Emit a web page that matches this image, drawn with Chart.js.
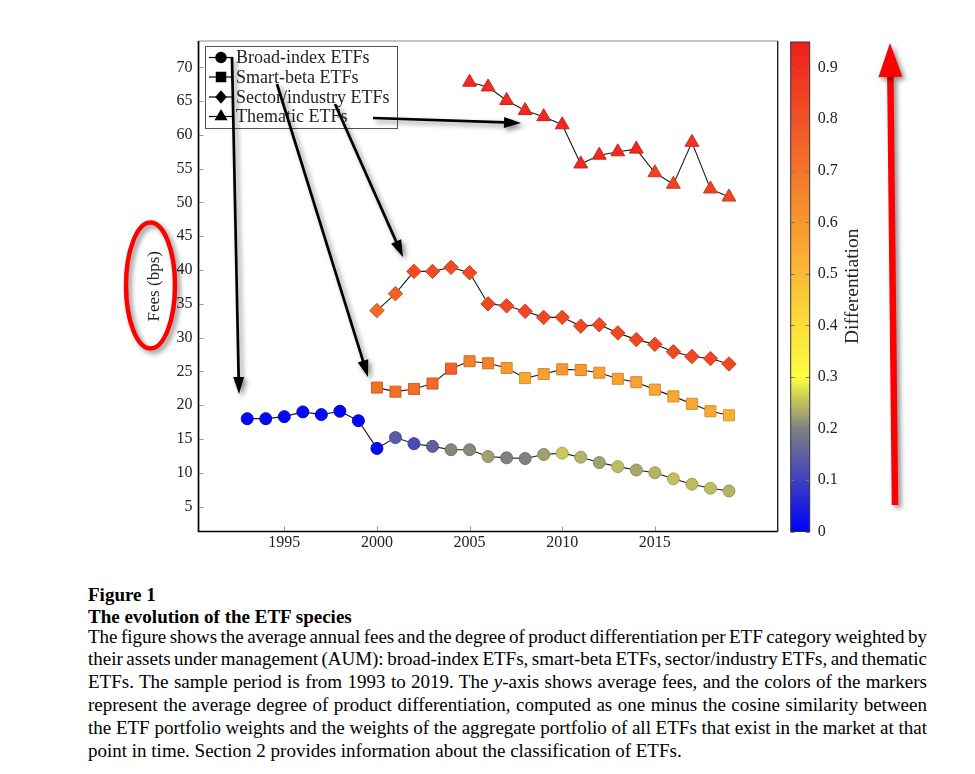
<!DOCTYPE html>
<html>
<head>
<meta charset="utf-8">
<script src="https://cdn.jsdelivr.net/npm/chart.js@4.4.0/dist/chart.umd.min.js"></script>
<style>
  html, body { margin: 0; padding: 0; background: #fff; }
  #wrap { position: absolute; left: 0; top: 0; width: 975px; height: 570px; }
  .cap { position: absolute; left: 88px; font-family: "Liberation Serif", "Times New Roman", serif;
         font-size: 19px; line-height: 19px; color: #000; white-space: nowrap; }
  .b { font-weight: bold; }
</style>
</head>
<body>
<div id="wrap"><canvas id="c" width="975" height="570" style="width:975px;height:570px"></canvas></div>

<div class="cap b" style="top:585px">Figure 1</div>
<div class="cap b" style="top:606.5px">The evolution of the ETF species</div>
<div class="cap jl" style="top:626.5px">The figure shows the average annual fees and the degree of product differentiation per ETF category weighted by</div>
<div class="cap jl" style="top:649.3px">their assets under management (AUM): broad-index ETFs, smart-beta ETFs, sector/industry ETFs, and thematic</div>
<div class="cap jl" style="top:672.1px">ETFs. The sample period is from 1993 to 2019. The <i>y</i>-axis shows average fees, and the colors of the markers</div>
<div class="cap jl" style="top:694.9px">represent the average degree of product differentiation, computed as one minus the cosine similarity between</div>
<div class="cap jl" style="top:717.7px">the ETF portfolio weights and the weights of the aggregate portfolio of all ETFs that exist in the market at that</div>
<div class="cap" style="top:740.5px">point in time. Section 2 provides information about the classification of ETFs.</div>

<script>
// ---------------- DATA ----------------
const broadYears = [1993,1994,1995,1996,1997,1998,1999,2000,2001,2002,2003,2004,2005,2006,2007,2008,2009,2010,2011,2012,2013,2014,2015,2016,2017,2018,2019];
const broadFees  = [18.0,18.0,18.3,19.0,18.6,19.1,17.7,13.6,15.2,14.3,13.9,13.4,13.4,12.4,12.2,12.1,12.7,12.9,12.3,11.5,10.9,10.4,10.0,9.1,8.3,7.7,7.3];
const broadDiff  = [0.01,0.01,0.01,0.01,0.01,0.01,0.01,0.01,0.14,0.116,0.15,0.205,0.206,0.225,0.2,0.2,0.225,0.257,0.241,0.225,0.247,0.231,0.241,0.25,0.247,0.247,0.241];

const smartYears = [2000,2001,2002,2003,2004,2005,2006,2007,2008,2009,2010,2011,2012,2013,2014,2015,2016,2017,2018,2019];
const smartFees  = [22.6,22.0,22.4,23.2,25.4,26.5,26.2,25.5,24.0,24.6,25.3,25.2,24.8,23.9,23.4,22.3,21.3,20.2,19.1,18.5];
const smartDiff  = [0.713,0.713,0.713,0.736,0.76,0.667,0.667,0.592,0.551,0.574,0.598,0.598,0.574,0.574,0.574,0.551,0.551,0.551,0.551,0.528];

const sectorYears = [2000,2001,2002,2003,2004,2005,2006,2007,2008,2009,2010,2011,2012,2013,2014,2015,2016,2017,2018,2019];
const sectorFees  = [34.0,36.5,39.8,39.8,40.4,39.6,35.0,34.7,33.9,33.0,33.0,31.7,31.9,30.7,29.7,29.0,27.9,27.2,26.9,26.1];
const sectorDiff  = [0.73,0.76,0.823,0.823,0.823,0.823,0.829,0.829,0.829,0.829,0.829,0.829,0.829,0.829,0.829,0.829,0.829,0.829,0.829,0.829];

const themYears = [2005,2006,2007,2008,2009,2010,2011,2012,2013,2014,2015,2016,2017,2018,2019];
const themFees  = [67.8,67.1,65.1,63.6,62.7,61.5,55.7,57.0,57.5,57.9,54.4,52.7,58.9,52.0,50.8];
const themDiff  = [0.915,0.915,0.915,0.915,0.915,0.915,0.915,0.915,0.915,0.915,0.85,0.85,0.88,0.85,0.84];

const seriesNames = ['Broad-index ETFs','Smart-beta ETFs','Sector/industry ETFs','Thematic ETFs'];
const xTicks = [1995,2000,2005,2010,2015];
const yTicks = [5,10,15,20,25,30,35,40,45,50,55,60,65,70];
const cbTicks = [0,0.1,0.2,0.3,0.4,0.5,0.6,0.7,0.8,0.9];
const cbRange = [0, 0.95];
const xRange = [1990.37, 2021.63];
const yRange = [1.3, 73.9];
const cmapStops = [[0,[0,0,255]],[0.2,[128,128,128]],[0.3,[255,255,64]],[0.95,[238,30,30]]];

// ---------------- HELPERS ----------------
function cmap(v){
  for (let i=0;i<cmapStops.length-1;i++){
    const [a,ca]=cmapStops[i],[b,cb]=cmapStops[i+1];
    if (v<=b || i===cmapStops.length-2){
      const t=Math.max(0,Math.min(1,(v-a)/(b-a)));
      return ca.map((c,k)=>Math.round(c+(cb[k]-c)*t));
    }
  }
}
const rgb = c => `rgb(${c[0]},${c[1]},${c[2]})`;
const fillOf = arr => arr.map(v=>rgb(cmap(v)));
const edgeOf = arr => arr.map(v=>rgb(cmap(v).map(c=>Math.round(c*0.85))));
const pts = (xs,ys) => xs.map((x,i)=>({x:x,y:ys[i]}));

const SERIF = '"Liberation Serif","Times New Roman",serif';

function mkDs(label, xs, ys, diff, style, r){
  return {
    label, data: pts(xs,ys), showLine:true, borderColor:'#1a1a1a', borderWidth:1.1,
    pointStyle: style, pointRadius: r, pointHoverRadius: r,
    pointBackgroundColor: fillOf(diff), pointBorderColor: edgeOf(diff), pointBorderWidth: 1,
    tension: 0, fill: false
  };
}

function drawMarker(ctx, style, x, y, r){
  ctx.beginPath();
  if (style==='circle'){ ctx.arc(x,y,r,0,Math.PI*2); }
  else if (style==='rect'){ const s=r*Math.SQRT1_2; ctx.rect(x-s,y-s,2*s,2*s); }
  else if (style==='rectRot'){ ctx.moveTo(x,y-r); ctx.lineTo(x+r*0.85,y); ctx.lineTo(x,y+r); ctx.lineTo(x-r*0.85,y); ctx.closePath(); }
  else if (style==='triangle'){ ctx.moveTo(x,y-r); ctx.lineTo(x+r*0.866,y+r/2); ctx.lineTo(x-r*0.866,y+r/2); ctx.closePath(); }
  ctx.fill();
}

function arrow(ctx, x1,y1,x2,y2, lw, hl, hw, color){
  const ang=Math.atan2(y2-y1,x2-x1);
  const bx=x2-Math.cos(ang)*hl, by=y2-Math.sin(ang)*hl;
  ctx.strokeStyle=color; ctx.fillStyle=color; ctx.lineWidth=lw; ctx.lineCap='butt';
  ctx.beginPath(); ctx.moveTo(x1,y1); ctx.lineTo(bx+Math.cos(ang)*1,by+Math.sin(ang)*1); ctx.stroke();
  ctx.beginPath();
  ctx.moveTo(x2,y2);
  ctx.lineTo(bx+Math.sin(ang)*hw/2, by-Math.cos(ang)*hw/2);
  ctx.lineTo(bx-Math.sin(ang)*hw/2, by+Math.cos(ang)*hw/2);
  ctx.closePath(); ctx.fill();
}

const styles = ['circle','rect','rectRot','triangle'];
const radii = [6, 7.8, 7.2, 8];

const decor = {
  id:'decor',
  afterDraw(chart){
    const ctx=chart.ctx, a=chart.chartArea, xs=chart.scales.x, ys=chart.scales.y;
    ctx.save();
    // inward ticks (left and bottom only)
    ctx.strokeStyle='#999'; ctx.lineWidth=1;
    xTicks.forEach(v=>{ const p=Math.round(xs.getPixelForValue(v))+0.5;
      ctx.beginPath(); ctx.moveTo(p,a.bottom); ctx.lineTo(p,a.bottom-5); ctx.stroke(); });
    yTicks.forEach(v=>{ const p=Math.round(ys.getPixelForValue(v))+0.5;
      ctx.beginPath(); ctx.moveTo(a.left,p); ctx.lineTo(a.left+5,p); ctx.stroke(); });
    // plot frame: top gray, right dark, left & bottom black
    ctx.lineWidth=1; ctx.strokeStyle='#888';
    ctx.beginPath(); ctx.moveTo(a.left,a.top); ctx.lineTo(a.right,a.top); ctx.stroke();
    ctx.lineWidth=1.4; ctx.strokeStyle='#222';
    ctx.beginPath(); ctx.moveTo(a.right,a.top); ctx.lineTo(a.right,a.bottom); ctx.stroke();
    ctx.lineWidth=1.7; ctx.strokeStyle='#000';
    ctx.beginPath(); ctx.moveTo(a.left,a.top); ctx.lineTo(a.left,a.bottom); ctx.lineTo(a.right,a.bottom); ctx.stroke();

    // colorbar
    const cbL=a.right+13, cbW=19, cbT=a.top+1, cbB=a.bottom;
    const cbY = v => cbB - (v-cbRange[0])/(cbRange[1]-cbRange[0])*(cbB-cbT);
    const g=ctx.createLinearGradient(0,cbB,0,cbT);
    cmapStops.forEach(([v,c])=>g.addColorStop((v-cbRange[0])/(cbRange[1]-cbRange[0]), rgb(c)));
    ctx.fillStyle=g; ctx.fillRect(cbL,cbT,cbW,cbB-cbT);
    ctx.strokeStyle='#777'; ctx.lineWidth=1;
    cbTicks.forEach(v=>{ const p=Math.round(cbY(v))+0.5;
      ctx.beginPath(); ctx.moveTo(cbL,p); ctx.lineTo(cbL+4,p); ctx.stroke();
      ctx.beginPath(); ctx.moveTo(cbL+cbW,p); ctx.lineTo(cbL+cbW-4,p); ctx.stroke(); });
    ctx.strokeStyle='#333'; ctx.lineWidth=1;
    ctx.strokeRect(cbL,cbT,cbW,cbB-cbT);
    ctx.fillStyle='#222'; ctx.font='16px '+SERIF; ctx.textAlign='left'; ctx.textBaseline='middle';
    cbTicks.forEach(v=>{ ctx.fillText(v===0?'0':String(v), cbL+cbW+8, cbY(v)); });
    ctx.save(); ctx.translate(853,(a.top+a.bottom)/2); ctx.rotate(-Math.PI/2);
    ctx.textAlign='center'; ctx.textBaseline='middle'; ctx.font='19.5px '+SERIF; ctx.fillStyle='#222';
    ctx.fillText('Differentiation',0,0); ctx.restore();

    // legend
    const lx=205, ly=46, lw=192, lh=82;
    ctx.fillStyle='#fff'; ctx.fillRect(lx,ly,lw,lh);
    ctx.strokeStyle='#555'; ctx.lineWidth=1; ctx.strokeRect(lx+0.5,ly+0.5,lw,lh);
    const rows=[57.5,77,97,116.5];
    seriesNames.forEach((n,i)=>{
      const y=rows[i];
      ctx.strokeStyle='#000'; ctx.lineWidth=1.2;
      ctx.beginPath(); ctx.moveTo(209,y); ctx.lineTo(233,y); ctx.stroke();
      ctx.fillStyle='#000'; drawMarker(ctx, styles[i], 221, y, radii[i]*0.95);
      ctx.fillStyle='#222'; ctx.font='18px '+SERIF; ctx.textAlign='left'; ctx.textBaseline='middle';
      ctx.fillText(n, 236, y+1);
    });

    // annotations: black arrows with shadow
    ctx.shadowColor='rgba(0,0,0,0.45)'; ctx.shadowBlur=5; ctx.shadowOffsetX=3; ctx.shadowOffsetY=3;
    arrow(ctx, 232,57, 239,394, 2.7, 17, 11, '#000');
    arrow(ctx, 277,84, 368,377, 2.7, 17, 11, '#000');
    arrow(ctx, 335,104, 403,257, 2.7, 17, 11, '#000');
    arrow(ctx, 373,118, 521,123, 2.7, 17, 11, '#000');
    // red ellipse
    ctx.strokeStyle='#ff0000'; ctx.lineWidth=4.5;
    ctx.beginPath(); ctx.ellipse(150.5,285.5,24.5,63,0,0,Math.PI*2); ctx.stroke();
    // red arrow
    arrow(ctx, 895,505, 890,43, 6.5, 34, 24, '#ff0000');
    ctx.restore();
  }
};

new Chart(document.getElementById('c'), {
  type:'line',
  data:{ datasets:[
    mkDs(seriesNames[3], themYears, themFees, themDiff, styles[3], radii[3]),
    mkDs(seriesNames[2], sectorYears, sectorFees, sectorDiff, styles[2], radii[2]),
    mkDs(seriesNames[1], smartYears, smartFees, smartDiff, styles[1], radii[1]),
    mkDs(seriesNames[0], broadYears, broadFees, broadDiff, styles[0], radii[0])
  ]},
  options:{
    responsive:false, animation:false,
    layout:{ padding:{ left:138, right:197.3, top:41, bottom:8.5 } },
    plugins:{ legend:{display:false}, tooltip:{enabled:false} },
    scales:{
      x:{ type:'linear', min:xRange[0], max:xRange[1],
        afterBuildTicks: s=>{ s.ticks = xTicks.map(v=>({value:v})); },
        afterFit: s=>{ s.height = 30; },
        grid:{display:false, drawTicks:false}, border:{display:false},
        ticks:{ padding:2, color:'#222', font:{family:SERIF, size:16}, maxRotation:0, autoSkip:false, callback:v=>String(v) } },
      y:{ type:'linear', min:yRange[0], max:yRange[1],
        afterBuildTicks: s=>{ s.ticks = yTicks.map(v=>({value:v})); },
        afterFit: s=>{ s.width = 60.5; },
        grid:{display:false, drawTicks:false}, border:{display:false},
        title:{ display:true, text:'Fees (bps)', color:'#222', font:{family:SERIF, size:17}, padding:{top:6,bottom:0} },
        ticks:{ padding:6, color:'#222', font:{family:SERIF, size:16}, autoSkip:false, callback:v=>String(v) } }
    }
  },
  plugins:[decor]
});

// justify caption lines to the text block width
document.querySelectorAll('.jl').forEach(el=>{
  const w=el.getBoundingClientRect().width;
  const n=(el.textContent.match(/ /g)||[]).length;
  el.style.wordSpacing = ((839 - w)/n) + 'px';
});
</script>
</body>
</html>
